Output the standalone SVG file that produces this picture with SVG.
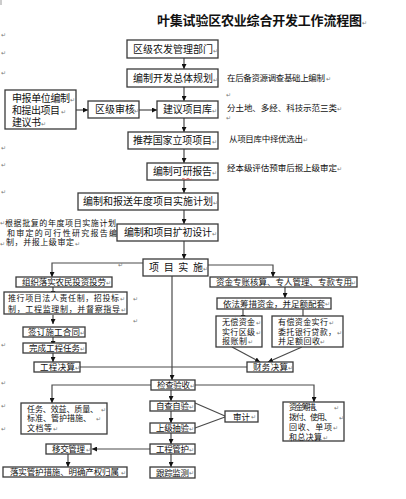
<svg xmlns="http://www.w3.org/2000/svg" width="406" height="499" viewBox="0 0 406 499">
<style>
.box{fill:#fff;stroke:#3a3a3a;stroke-width:1.3}
.ln{fill:none;stroke:#4a4a4a;stroke-width:1.2}
.t{font-family:"Noto Sans CJK SC","Noto Sans CJK JP",sans-serif;font-size:10px;fill:#111}
.s{font-family:"Noto Sans CJK SC","Noto Sans CJK JP",sans-serif;font-size:8.5px;fill:#111}
.u{font-family:"Noto Sans CJK SC","Noto Sans CJK JP",sans-serif;font-size:8px;fill:#111}
.ttl{font-family:"Noto Sans CJK SC","Noto Sans CJK JP",sans-serif;font-size:13px;font-weight:bold;fill:#111}
.m{font-family:"DejaVu Sans",sans-serif;font-size:6px;fill:#777}
</style>
<defs>
<marker id="ah" viewBox="0 0 6 6" refX="6" refY="3" markerWidth="5" markerHeight="5" orient="auto" markerUnits="userSpaceOnUse">
<path d="M0,0 L6,3 L0,6 Z" fill="#111"/>
</marker>
</defs>
<rect width="406" height="499" fill="#fff"/>
<line x1="1" y1="0" x2="1" y2="5" stroke="#999" stroke-width="1"/>

<g id="title">
<text class="ttl" x="157" y="25" textLength="205" lengthAdjust="spacing">叶集试验区农业综合开发工作流程图</text>
<text class="m" x="362" y="25">↵</text>
</g>

<g id="marks">
<text class="m" x="1" y="37">↵</text>
<text class="m" x="1" y="55">↵</text>
<text class="m" x="1" y="75">↵</text>
<text class="m" x="1" y="150">↵</text>
<text class="m" x="1" y="167">↵</text>
<text class="m" x="1" y="194">↵</text>
<text class="m" x="226" y="97">↵</text>
<text class="m" x="226" y="120">↵</text>
<text class="m" x="118" y="267">↵</text>
<text class="m" x="133" y="301">↵</text>
<text class="m" x="133" y="323">↵</text>
<text class="m" x="1" y="347">↵</text>
<text class="m" x="1" y="385">↵</text>
<text class="m" x="1" y="408">↵</text>
<text class="m" x="1" y="431">↵</text>
</g>

<g id="connectors">
<line class="ln" x1="184" y1="58" x2="184" y2="69" marker-end="url(#ah)"/>
<line class="ln" x1="184" y1="87" x2="184" y2="101" marker-end="url(#ah)"/>
<line class="ln" x1="76" y1="110" x2="88" y2="110" marker-end="url(#ah)"/>
<line class="ln" x1="139" y1="110" x2="157" y2="110" marker-end="url(#ah)"/>
<line class="ln" x1="184" y1="118" x2="184" y2="132" marker-end="url(#ah)"/>
<line class="ln" x1="184" y1="149" x2="184" y2="163" marker-end="url(#ah)"/>
<line class="ln" x1="184" y1="180" x2="184" y2="193" marker-end="url(#ah)"/>
<line class="ln" x1="184" y1="210" x2="184" y2="224" marker-end="url(#ah)"/>
<line class="ln" x1="184" y1="241" x2="184" y2="259" marker-end="url(#ah)"/>
<path class="ln" d="M143,263 H52 V277" marker-end="url(#ah)"/>
<path class="ln" d="M208,265 H273 V277" marker-end="url(#ah)"/>
<line class="ln" x1="172" y1="276" x2="172" y2="380" marker-end="url(#ah)"/>
<line class="ln" x1="53" y1="287" x2="53" y2="296" marker-end="url(#ah)"/>
<line class="ln" x1="53" y1="315" x2="53" y2="324" marker-end="url(#ah)"/>
<line class="ln" x1="53" y1="337" x2="53" y2="346" marker-end="url(#ah)"/>
<line class="ln" x1="53" y1="353" x2="53" y2="362" marker-end="url(#ah)"/>
<line class="ln" x1="80" y1="367" x2="247" y2="367"/>
<line class="ln" x1="285" y1="287" x2="285" y2="298" marker-end="url(#ah)"/>
<line class="ln" x1="243" y1="309" x2="243" y2="320" marker-end="url(#ah)"/>
<line class="ln" x1="303" y1="309" x2="303" y2="321" marker-end="url(#ah)"/>
<line class="ln" x1="232" y1="347" x2="260" y2="362" marker-end="url(#ah)"/>
<line class="ln" x1="302" y1="347" x2="268" y2="362" marker-end="url(#ah)"/>
<path class="ln" d="M151,385 H52 V403" marker-end="url(#ah)"/>
<path class="ln" d="M195,385 H314 V402" marker-end="url(#ah)"/>
<line class="ln" x1="171" y1="390" x2="171" y2="401" marker-end="url(#ah)"/>
<line class="ln" x1="171" y1="411" x2="171" y2="423" marker-end="url(#ah)"/>
<line class="ln" x1="171" y1="433" x2="171" y2="444" marker-end="url(#ah)"/>
<line class="ln" x1="171" y1="454" x2="171" y2="467" marker-end="url(#ah)"/>
<line class="ln" x1="195" y1="403" x2="225" y2="416"/>
<line class="ln" x1="195" y1="428" x2="225" y2="417"/>
<line class="ln" x1="150" y1="449" x2="92" y2="449" marker-end="url(#ah)"/>
<line class="ln" x1="68" y1="454" x2="68" y2="467" marker-end="url(#ah)"/>
</g>

<g id="n1"><rect class="box" x="127" y="40" width="91" height="18"/>
<text class="t" x="133" y="52.8" textLength="80" lengthAdjust="spacing">区级农发管理部门</text><text class="m" x="213" y="53">↵</text></g>

<g id="n2"><rect class="box" x="127" y="69" width="91" height="18"/>
<text class="t" x="133" y="81.8" textLength="80" lengthAdjust="spacing">编制开发总体规划</text><text class="m" x="213" y="82">↵</text></g>
<g id="note1"><text class="s" x="227" y="81.2" textLength="98" lengthAdjust="spacing">在后备资源调查基础上编制</text><text class="m" x="326" y="81">↵</text></g>

<g id="n3"><rect class="box" x="5" y="90" width="71" height="39"/>
<text class="t" x="12" y="101.8" textLength="58" lengthAdjust="spacing">申报单位编制</text><text class="m" x="70" y="102">↵</text>
<text class="t" x="12" y="113.8" textLength="48" lengthAdjust="spacing">和提出项目</text><text class="m" x="61" y="114">↵</text>
<text class="t" x="12" y="125.8" textLength="29" lengthAdjust="spacing">建议书</text><text class="m" x="41" y="126">↵</text></g>

<g id="n4"><rect class="box" x="88" y="101" width="51" height="17"/>
<text class="t" x="95" y="113.3" textLength="40" lengthAdjust="spacing">区级审核</text><text class="m" x="134" y="113">↵</text></g>

<g id="n5"><rect class="box" x="157" y="101" width="61" height="17"/>
<text class="t" x="163" y="113.3" textLength="49" lengthAdjust="spacing">建议项目库</text><text class="m" x="212" y="113">↵</text></g>
<g id="note2"><text class="s" x="227" y="111.2" textLength="110" lengthAdjust="spacing">分土地、多经、科技示范三类</text><text class="m" x="337" y="111">↵</text></g>

<g id="n6"><rect class="box" x="128" y="132" width="90" height="17"/>
<text class="t" x="133" y="144.3" textLength="79" lengthAdjust="spacing">推荐国家立项项目</text><text class="m" x="212" y="144">↵</text></g>
<g id="note3"><text class="s" x="229" y="142.2" textLength="74" lengthAdjust="spacing">从项目库中择优选出</text><text class="m" x="303" y="142">↵</text></g>

<g id="n7"><rect class="box" x="147" y="163" width="71" height="17"/>
<text class="t" x="153" y="175.3" textLength="59" lengthAdjust="spacing">编制可研报告</text><text class="m" x="212" y="175">↵</text>
<path d="M182,179 q1.2,-1.2 2.4,0 t2.4,0 t2.4,0 t2.4,0" fill="none" stroke="#d33" stroke-width="0.8"/></g>
<g id="note4"><text class="s" x="227" y="171.2" textLength="110" lengthAdjust="spacing">经本级评估预审后报上级审定</text><text class="m" x="337" y="171">↵</text></g>

<g id="n8"><rect class="box" x="78" y="193" width="140" height="17"/>
<text class="t" x="83" y="205.3" textLength="130" lengthAdjust="spacing">编制和报送年度项目实施计划</text><text class="m" x="213" y="205">↵</text></g>

<g id="note5">
<text class="m" x="0" y="225">↵</text>
<text class="u" x="5" y="226" textLength="111" lengthAdjust="spacing">根据批复的年度项目实施计划</text>
<text class="u" x="7" y="236" textLength="110" lengthAdjust="spacing">和审定的可行性研究报告编</text>
<text class="m" x="0" y="246">↵</text>
<text class="u" x="6" y="245.4" textLength="68" lengthAdjust="spacing">制，并报上级审定</text>
<text class="m" x="75" y="246">↵</text>
</g>

<g id="n9"><rect class="box" x="117" y="224" width="101" height="17"/>
<text class="t" x="124" y="236.3" textLength="88" lengthAdjust="spacing">编制和项目扩初设计</text><text class="m" x="212" y="236">↵</text></g>

<g id="n10"><rect class="box" x="143" y="259" width="65" height="17"/>
<text class="t" x="149" y="271.3" textLength="54" lengthAdjust="spacing">项 目 实 施</text><text class="m" x="203" y="271">↵</text></g>

<g id="n11"><rect class="box" x="16" y="277" width="96" height="10"/>
<text class="s" x="22" y="285.2" textLength="84" lengthAdjust="spacing">组织落实农民投资投劳</text><text class="m" x="106" y="285">↵</text></g>

<g id="n12"><rect class="box" x="4" y="292" width="123" height="22"/>
<text class="u" x="8" y="301" textLength="111" lengthAdjust="spacing">推行项目法人责任制，招投标</text><text class="m" x="120" y="301">↵</text>
<text class="u" x="8" y="312" textLength="112" lengthAdjust="spacing">制，工程监理制，并督察指导</text><text class="m" x="121" y="312">↵</text></g>

<g id="n13"><rect class="box" x="23" y="327" width="62" height="10"/>
<text class="s" x="28" y="335.2" textLength="52" lengthAdjust="spacing">签订施工合同</text><text class="m" x="80" y="335">↵</text></g>

<g id="n14"><rect class="box" x="23" y="343" width="63" height="10"/>
<text class="s" x="29" y="351.2" textLength="51" lengthAdjust="spacing">完成工程任务</text><text class="m" x="80" y="351">↵</text></g>

<g id="n15"><rect class="box" x="34" y="362" width="46" height="10"/>
<text class="s" x="40" y="370.2" textLength="35" lengthAdjust="spacing">工程决算</text><text class="m" x="75" y="370">↵</text></g>

<g id="n16"><rect class="box" x="210" y="277" width="147" height="10"/>
<text class="s" x="216" y="285.2" textLength="136" lengthAdjust="spacing">资金专账核算、专人管理、专款专用</text><text class="m" x="351" y="285">↵</text></g>

<g id="n17"><rect class="box" x="217" y="298" width="114" height="11"/>
<text class="s" x="223" y="306.7" textLength="102" lengthAdjust="spacing">依法筹措资金，并足额配套</text><text class="m" x="325" y="306">↵</text></g>

<g id="n18"><rect class="box" x="216" y="316" width="46" height="31"/>
<text class="u" x="222" y="325" textLength="33" lengthAdjust="spacing">无偿资金</text><text class="m" x="256" y="325">↵</text>
<text class="u" x="222" y="335" textLength="33" lengthAdjust="spacing">实行区级</text><text class="m" x="256" y="335">↵</text>
<text class="u" x="222" y="344" textLength="25" lengthAdjust="spacing">报账制</text><text class="m" x="248" y="344">↵</text></g>

<g id="n19"><rect class="box" x="272" y="316" width="71" height="31"/>
<text class="u" x="278" y="325" textLength="50" lengthAdjust="spacing">有偿资金实行</text><text class="m" x="329" y="325">↵</text>
<text class="u" x="278" y="335" textLength="58" lengthAdjust="spacing">委托银行贷款，</text><text class="m" x="337" y="335">↵</text>
<text class="u" x="278" y="344" textLength="42" lengthAdjust="spacing">并足额回收</text><text class="m" x="320" y="344">↵</text></g>

<g id="n20"><rect class="box" x="247" y="362" width="46" height="10"/>
<text class="s" x="253" y="370.2" textLength="35" lengthAdjust="spacing">财务决算</text><text class="m" x="288" y="370">↵</text></g>

<g id="n21"><rect class="box" x="151" y="380" width="44" height="10"/>
<text class="s" x="157" y="388.2" textLength="33" lengthAdjust="spacing">检查验收</text><text class="m" x="190" y="388">↵</text></g>

<g id="n22"><rect class="box" x="21" y="403" width="86" height="31"/>
<text class="u" x="27" y="412" textLength="71" lengthAdjust="spacing">任务、效益、质量、</text><text class="m" x="101" y="412">↵</text>
<text class="u" x="27" y="421" textLength="64" lengthAdjust="spacing">标准、管护措施、</text><text class="m" x="96" y="421">↵</text>
<text class="u" x="27" y="431" textLength="25" lengthAdjust="spacing">文档等</text><text class="m" x="53" y="431">↵</text></g>

<g id="n23"><rect class="box" x="150" y="401" width="45" height="10"/>
<text class="s" x="156" y="409.2" textLength="33" lengthAdjust="spacing">自查自验</text><text class="m" x="189" y="409">↵</text></g>

<g id="n24"><rect class="box" x="225" y="411" width="33" height="11"/>
<text class="s" x="233" y="419.7" textLength="17" lengthAdjust="spacing">审计</text><text class="m" x="251" y="419">↵</text></g>

<g id="n25"><rect class="box" x="150" y="423" width="45" height="10"/>
<text class="s" x="156" y="431.2" textLength="33" lengthAdjust="spacing">上级抽验</text><text class="m" x="189" y="431">↵</text></g>

<g id="n26"><rect class="box" x="150" y="444" width="45" height="10"/>
<text class="s" x="156" y="452.2" textLength="33" lengthAdjust="spacing">工程管护</text><text class="m" x="189" y="452">↵</text></g>

<g id="n27"><rect class="box" x="46" y="444" width="45" height="10"/>
<text class="s" x="52" y="452.2" textLength="33" lengthAdjust="spacing">移交管理</text><text class="m" x="86" y="452">↵</text></g>

<g id="n28"><rect class="box" x="3" y="467" width="124" height="10"/>
<text class="s" x="10" y="475.2" textLength="109" lengthAdjust="spacing">落实管护措施、明确产权归属</text><text class="m" x="121" y="475">↵</text></g>

<g id="n29"><rect class="box" x="150" y="467" width="45" height="11"/>
<text class="s" x="156" y="475.7" textLength="33" lengthAdjust="spacing">跟踪监测</text><text class="m" x="189" y="475">↵</text></g>

<g id="n30"><rect class="box" x="283" y="402" width="61" height="39"/>
<text class="u" x="289" y="410" textLength="33" lengthAdjust="spacing">资金筹措、</text><text class="m" x="334" y="410">↵</text>
<text class="u" x="289" y="420" textLength="43" lengthAdjust="spacing">拨付、使用、</text><text class="m" x="339" y="420">↵</text>
<text class="u" x="289" y="430" textLength="43" lengthAdjust="spacing">回收、单项</text><text class="m" x="333" y="430">↵</text>
<text class="u" x="289" y="439.5" textLength="33" lengthAdjust="spacing">和总决算</text><text class="m" x="323" y="440">↵</text></g>
</svg>
